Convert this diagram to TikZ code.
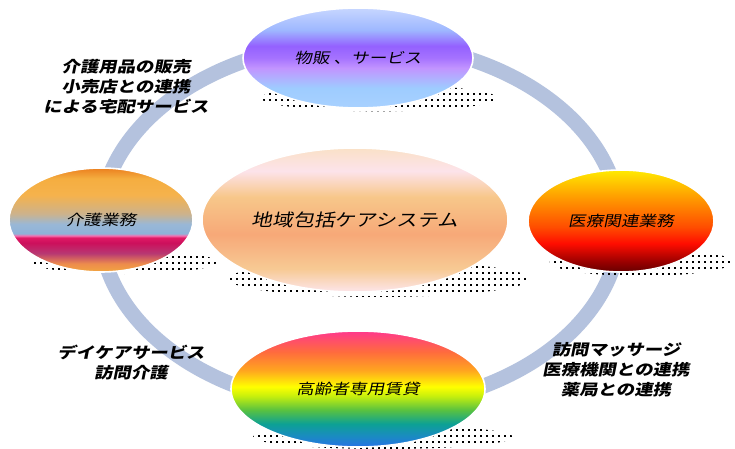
\documentclass[tikz,border=0pt]{standalone}
\usepackage{fontspec}
\newfontfamily\jpfont{Noto Sans CJK JP}[FakeSlant=0.2,FakeStretch=1.2]
\usetikzlibrary{shapes.geometric}
\usetikzlibrary{patterns.meta}
\definecolor{RingBlue}{RGB}{180,194,222}
\pgfdeclareverticalshading{shadeshop}{100bp}{rgb(0bp)=(.66,.82,1); rgb(25bp)=(.66,.82,1); rgb(35bp)=(.62,.80,1); rgb(45bp)=(.76,.58,1); rgb(50bp)=(.65,.45,1); rgb(56bp)=(.58,.38,1); rgb(64bp)=(.62,.72,1); rgb(75bp)=(.78,.84,1); rgb(100bp)=(.78,.84,1)}
\pgfdeclareverticalshading{shadecare}{100bp}{rgb(0bp)=(.95,.65,.25); rgb(25bp)=(.95,.65,.25); rgb(29bp)=(.93,.55,.3); rgb(34bp)=(.72,.22,.45); rgb(39bp)=(.80,.06,.36); rgb(41.5bp)=(.88,.1,.4); rgb(42.5bp)=(.95,.45,.7); rgb(43.5bp)=(.56,.70,.85); rgb(48bp)=(.60,.72,.84); rgb(53bp)=(.80,.70,.55); rgb(62bp)=(.96,.70,.30); rgb(70bp)=(.96,.68,.25); rgb(75bp)=(.92,.50,.12); rgb(100bp)=(.92,.50,.12)}
\pgfdeclareverticalshading{shademed}{100bp}{rgb(0bp)=(.4,0,0); rgb(25bp)=(.4,0,0); rgb(30bp)=(.6,0,0); rgb(39bp)=(1,.05,0); rgb(47bp)=(1,.3,0); rgb(62bp)=(1,.62,0); rgb(75bp)=(1,.92,0); rgb(100bp)=(1,.92,0)}
\pgfdeclareverticalshading{shadehouse}{100bp}{rgb(0bp)=(.15,.45,.9); rgb(25bp)=(.15,.45,.9); rgb(30bp)=(.1,.55,.75); rgb(35bp)=(.05,.63,.58); rgb(41bp)=(.35,.76,.25); rgb(47bp)=(.78,.94,.05); rgb(51bp)=(1,1,0); rgb(58bp)=(1,.65,.12); rgb(66bp)=(1,.42,.24); rgb(75bp)=(1,.22,.55); rgb(100bp)=(1,.22,.55)}
\pgfdeclareverticalshading{shadecore}{100bp}{rgb(0bp)=(.99,.90,.92); rgb(25bp)=(.99,.90,.92); rgb(33bp)=(.97,.79,.58); rgb(45bp)=(.97,.66,.47); rgb(58bp)=(.97,.78,.54); rgb(67bp)=(.99,.89,.92); rgb(75bp)=(.98,.88,.78); rgb(100bp)=(.98,.88,.78)}
\tikzdeclarepattern{
  name=squaredots,
  type=uncolored,
  bounding box={(0pt,0pt) and (4.2pt,4.2pt)},
  tile size={(4.2pt,4.2pt)},
  code={\pgfpathrectangle{\pgfpointorigin}{\pgfpoint{1.5pt}{1.5pt}}\pgfusepath{fill}}
}
\tikzset{
  oval/.style={ellipse, draw=white, line width=1.2pt, inner sep=0pt,
    font=\jpfont\fontsize{11}{13}\selectfont},
  ovalshadow/.style={ellipse, inner sep=0pt, pattern=squaredots, pattern color=black},
  sidelabel/.style={align=center, font=\jpfont\bfseries\fontsize{11.5}{15}\selectfont}
}

\begin{document}
\begin{tikzpicture}[x=0.75pt,y=-0.75pt]
  \useasboundingbox[fill=white] (0,0) rectangle (735,449);
  % ring
  \draw[RingBlue, line width=11.25pt] (360,225) ellipse [x radius=260, y radius=183];
  % dotted shadows
  \node[ovalshadow, minimum width=177pt, minimum height=20pt] (shopshadow) at (379,98) {};
  \node[ovalshadow, minimum width=139pt, minimum height=18pt] (careshadow) at (124,262) {};
  \node[ovalshadow, minimum width=137pt, minimum height=21pt] (medshadow) at (641,262) {};
  \node[ovalshadow, minimum width=195pt, minimum height=18pt] (houseshadow) at (383,437) {};
  \node[ovalshadow, minimum width=226pt, minimum height=27pt] (coreshadow) at (379,279) {};
  % ovals
  \node[oval, shading=shadeshop, minimum width=172.5pt, minimum height=75pt] (shop) at (358,58) {物販 、サービス};
  \node[oval, shading=shadecare, minimum width=138pt, minimum height=78pt] (care) at (101,220) {介護業務};
  \node[oval, shading=shademed, minimum width=139.5pt, minimum height=76.5pt] (med) at (621,221) {医療関連業務};
  \node[oval, shading=shadehouse, minimum width=190.5pt, minimum height=87pt] (house) at (358,389) {高齢者専用賃貸};
  \node[oval, shading=shadecore, minimum width=229.5pt, minimum height=108pt,
    font=\jpfont\fontsize{13}{15}\selectfont] (core) at (355,220) {地域包括ケアシステム};
  % labels
  \node[sidelabel] (shoplabel) at (126,87) {介護用品の販売\\小売店との連携\\による宅配サービス};
  \node[sidelabel] (carelabel) at (131,363) {デイケアサービス\\訪問介護};
  \node[sidelabel] (medlabel) at (616,370) {訪問マッサージ\\医療機関との連携\\薬局との連携};
\end{tikzpicture}
\end{document}
